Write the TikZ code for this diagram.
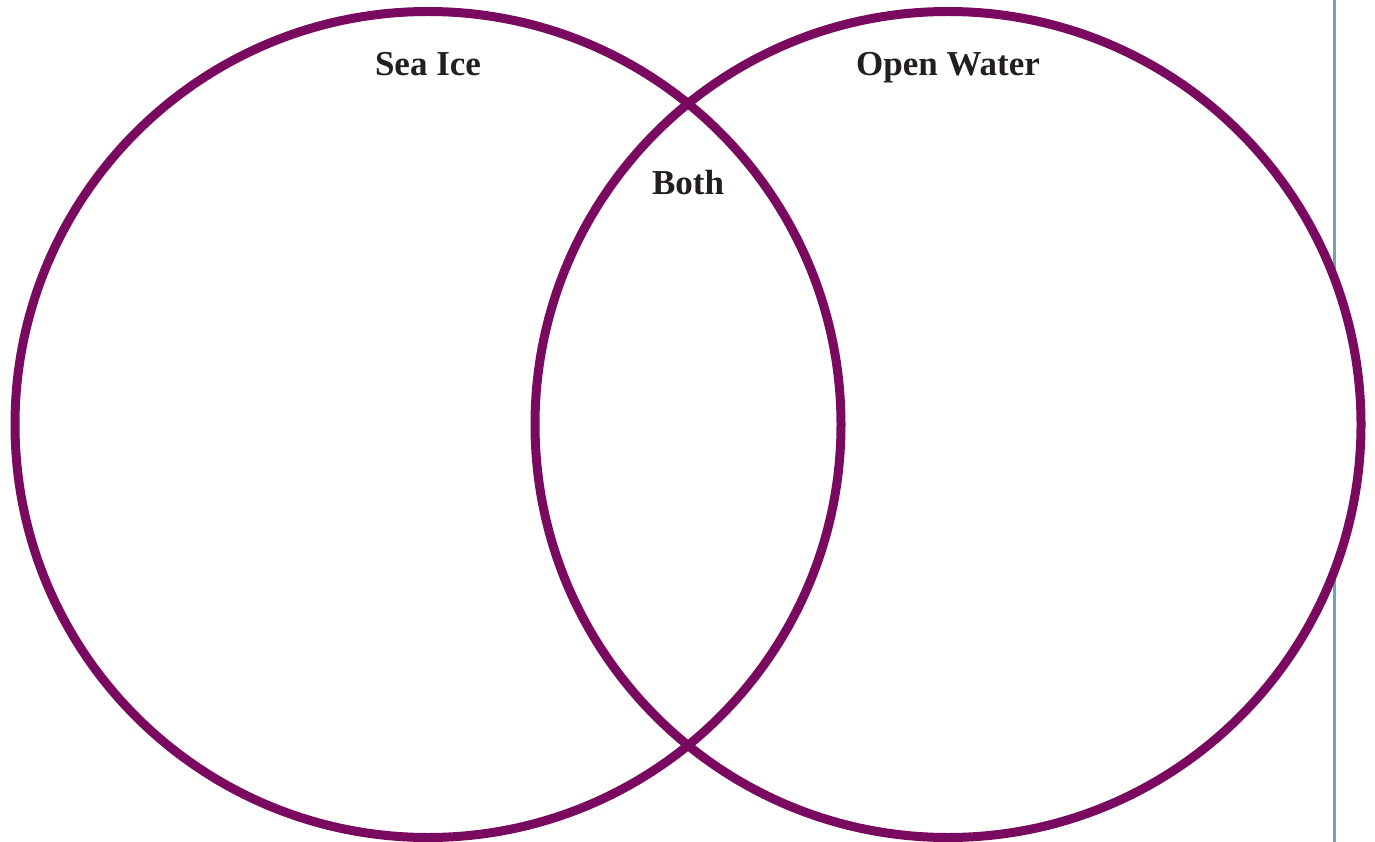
\documentclass[tikz,border=0pt]{standalone}
\usepackage{fontspec}
\setmainfont{Liberation Serif}
\usepackage{xcolor}
\usetikzlibrary{positioning}
\definecolor{vennpurple}{HTML}{7A0A5F}
\definecolor{edgeteal}{HTML}{6BA7B3}
\definecolor{labelgray}{HTML}{231F20}

\begin{document}
\begin{tikzpicture}[x=1pt, y=-1pt,
  ring/.style={line width=9pt, vennpurple},
  setlabel/.style={anchor=base, text=labelgray, inner sep=0pt,
    font=\fontsize{35}{40}\selectfont\bfseries}]
  \useasboundingbox (0,0) rectangle (1375,842);
  % Define dimensions
  \def\rad{413}

  % Page edge line
  \coordinate (edgetop) at (1334.7,0);
  \coordinate (edgebot) at (1334.7,842);
  \draw[edgeteal, line width=2.5pt] (edgetop) -- (edgebot);

  % Draw circles
  \coordinate (icec) at (428,424.5);
  \coordinate (waterc) at (948,424.5);
  \fill[white] (icec) circle[radius=\rad] (waterc) circle[radius=\rad];
  \draw[ring] (icec) circle[radius=\rad];
  \draw[ring] (waterc) circle[radius=\rad];

  % Labels
  \node[setlabel] (seaice) at (428,76) {Sea Ice};
  \node[setlabel] (openwater) at (948,76) {Open Water};
  \node[setlabel] (both) at (688,195) {Both};
\end{tikzpicture}
\end{document}
